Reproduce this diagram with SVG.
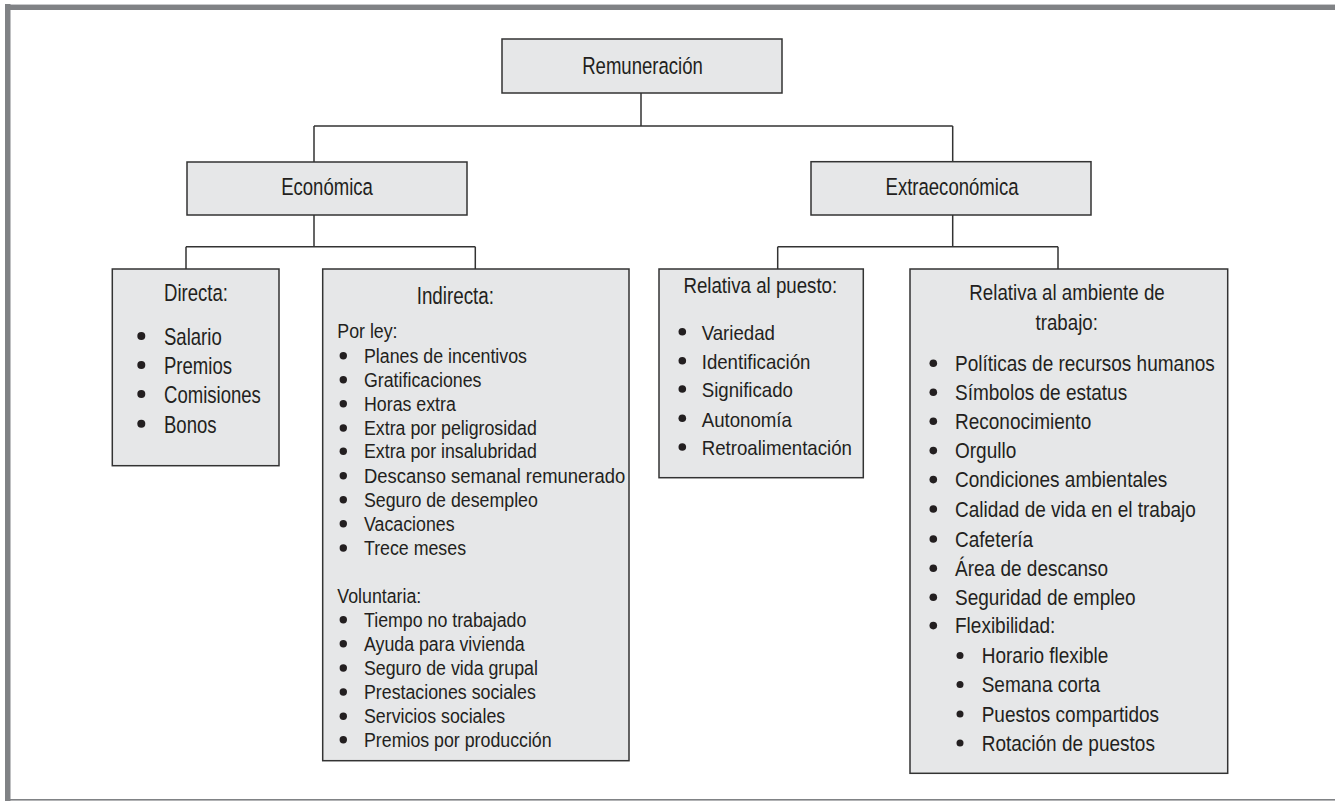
<svg xmlns="http://www.w3.org/2000/svg" width="1335" height="801" viewBox="0 0 1335 801">
<style>
.box{fill:#e6e7e8;stroke:#333333;stroke-width:1.5}
.ln{fill:none;stroke:#333333;stroke-width:1.5}
text{font-family:"Liberation Sans",Arial,sans-serif;fill:#231f20}
.t{font-size:23.5px;text-anchor:middle}
.d{font-size:23px}
.s{font-size:21px}
.p{font-size:20.5px}
.a{font-size:22px}
.b{fill:#231f20}
</style>
<rect x="0" y="0" width="1335" height="801" fill="#ffffff"/>
<g id="frame">
<rect x="5" y="4" width="1330" height="1" fill="#c8c9cb"/>
<rect x="5" y="5" width="1330" height="5" fill="#808285"/>
<rect x="5" y="4" width="5.5" height="797" fill="#808285"/>
<rect x="5" y="799" width="1330" height="1.6" fill="#808285"/>
</g>
<g id="connectors">
<path class="ln" d="M641 93V126M314 126H952.7M314 126V162M952.7 126V161.7"/>
<path class="ln" d="M314 215V246.7M186 246.7H475.3M186 246.7V269M475.3 246.7V269"/>
<path class="ln" d="M952.7 215V246.7M777.7 246.7H1058M777.7 246.7V269M1058 246.7V269"/>
</g>
<g id="remuneracion">
<rect class="box" x="502" y="39" width="280" height="54"/>
<text class="t" transform="translate(642.5,74) scale(0.79,1)">Remuneración</text>
</g>
<g id="economica">
<rect class="box" x="187" y="162" width="280" height="53"/>
<text class="t" transform="translate(327,195) scale(0.79,1)">Económica</text>
</g>
<g id="extraeconomica">
<rect class="box" x="811" y="161.7" width="280" height="53.3"/>
<text class="t" transform="translate(952,195) scale(0.79,1)">Extraeconómica</text>
</g>
<g id="directa">
<rect class="box" x="112.3" y="269" width="166.7" height="196.7"/>
<text class="t" transform="translate(196,300.7) scale(0.79,1)">Directa:</text>
<g class="b"><circle cx="141.3" cy="336" r="4"/><circle cx="141.3" cy="365" r="4"/><circle cx="141.3" cy="394" r="4"/><circle cx="141.3" cy="423.7" r="4"/></g>
<text class="d" transform="translate(164,345) scale(0.807,1)">Salario</text>
<text class="d" transform="translate(164,374) scale(0.807,1)">Premios</text>
<text class="d" transform="translate(164,403) scale(0.807,1)">Comisiones</text>
<text class="d" transform="translate(164,432.7) scale(0.807,1)">Bonos</text>
</g>
<g id="indirecta">
<rect class="box" x="322.7" y="269" width="306.3" height="491.7"/>
<text class="t" transform="translate(455.3,304) scale(0.8,1)">Indirecta:</text>
<text class="s" transform="translate(337.3,338.3) scale(0.847,1)">Por ley:</text>
<g class="b">
<circle cx="343.3" cy="355.7" r="3.7"/><circle cx="343.3" cy="379.7" r="3.7"/><circle cx="343.3" cy="403.7" r="3.7"/><circle cx="343.3" cy="428" r="3.7"/><circle cx="343.3" cy="451.3" r="3.7"/><circle cx="343.3" cy="475.7" r="3.7"/><circle cx="343.3" cy="499.7" r="3.7"/><circle cx="343.3" cy="523.7" r="3.7"/><circle cx="343.3" cy="548" r="3.7"/>
<circle cx="343.3" cy="619.7" r="3.7"/><circle cx="343.3" cy="643.7" r="3.7"/><circle cx="343.3" cy="668" r="3.7"/><circle cx="343.3" cy="692" r="3.7"/><circle cx="343.3" cy="716.3" r="3.7"/><circle cx="343.3" cy="739.7" r="3.7"/>
</g>
<text class="s" transform="translate(364,362.7) scale(0.847,1)">Planes de incentivos</text>
<text class="s" transform="translate(364,386.7) scale(0.847,1)">Gratificaciones</text>
<text class="s" transform="translate(364,410.7) scale(0.847,1)">Horas extra</text>
<text class="s" transform="translate(364,435) scale(0.847,1)">Extra por peligrosidad</text>
<text class="s" transform="translate(364,458.3) scale(0.847,1)">Extra por insalubridad</text>
<text class="s" transform="translate(364,482.7) scale(0.878,1)">Descanso semanal remunerado</text>
<text class="s" transform="translate(364,506.7) scale(0.847,1)">Seguro de desempleo</text>
<text class="s" transform="translate(364,530.7) scale(0.847,1)">Vacaciones</text>
<text class="s" transform="translate(364,555) scale(0.847,1)">Trece meses</text>
<text class="s" transform="translate(337.3,602.7) scale(0.847,1)">Voluntaria:</text>
<text class="s" transform="translate(364,626.7) scale(0.847,1)">Tiempo no trabajado</text>
<text class="s" transform="translate(364,650.7) scale(0.847,1)">Ayuda para vivienda</text>
<text class="s" transform="translate(364,675) scale(0.847,1)">Seguro de vida grupal</text>
<text class="s" transform="translate(364,699) scale(0.847,1)">Prestaciones sociales</text>
<text class="s" transform="translate(364,723.3) scale(0.847,1)">Servicios sociales</text>
<text class="s" transform="translate(364,746.7) scale(0.847,1)">Premios por producción</text>
</g>
<g id="puesto">
<rect class="box" x="659" y="269" width="204.3" height="208.7"/>
<text class="t" style="font-size:22px" transform="translate(760.3,293.3) scale(0.85,1)">Relativa al puesto:</text>
<g class="b"><circle cx="682.3" cy="331.7" r="3.8"/><circle cx="682.3" cy="360.7" r="3.8"/><circle cx="682.3" cy="389" r="3.8"/><circle cx="682.3" cy="418.3" r="3.8"/><circle cx="682.3" cy="447" r="3.8"/></g>
<text class="p" transform="translate(701.7,340) scale(0.91,1)">Variedad</text>
<text class="p" transform="translate(701.7,369) scale(0.91,1)">Identificación</text>
<text class="p" transform="translate(701.7,397.3) scale(0.91,1)">Significado</text>
<text class="p" transform="translate(701.7,426.7) scale(0.91,1)">Autonomía</text>
<text class="p" transform="translate(701.7,455.3) scale(0.91,1)">Retroalimentación</text>
</g>
<g id="ambiente">
<rect class="box" x="910" y="269" width="317.7" height="504.3"/>
<text class="t" style="font-size:22px" transform="translate(1067,300) scale(0.85,1)">Relativa al ambiente de</text>
<text class="t" style="font-size:22px" transform="translate(1066.7,330) scale(0.85,1)">trabajo:</text>
<g class="b">
<circle cx="933.3" cy="363.3" r="3.8"/><circle cx="933.3" cy="392.3" r="3.8"/><circle cx="933.3" cy="421.3" r="3.8"/><circle cx="933.3" cy="450.6" r="3.8"/><circle cx="933.3" cy="479.6" r="3.8"/><circle cx="933.3" cy="509" r="3.8"/><circle cx="933.3" cy="539" r="3.8"/><circle cx="933.3" cy="568.3" r="3.8"/><circle cx="933.3" cy="597.3" r="3.8"/><circle cx="933.3" cy="625.6" r="3.8"/>
<circle cx="960" cy="655.6" r="3.5"/><circle cx="960" cy="684.6" r="3.5"/><circle cx="960" cy="714" r="3.5"/><circle cx="960" cy="743" r="3.5"/>
</g>
<text class="a" transform="translate(955,371) scale(0.864,1)">Políticas de recursos humanos</text>
<text class="a" transform="translate(955,400) scale(0.864,1)">Símbolos de estatus</text>
<text class="a" transform="translate(955,429) scale(0.864,1)">Reconocimiento</text>
<text class="a" transform="translate(955,458.3) scale(0.864,1)">Orgullo</text>
<text class="a" transform="translate(955,487.3) scale(0.864,1)">Condiciones ambientales</text>
<text class="a" transform="translate(955,516.7) scale(0.864,1)">Calidad de vida en el trabajo</text>
<text class="a" transform="translate(955,546.7) scale(0.864,1)">Cafetería</text>
<text class="a" transform="translate(955,576) scale(0.864,1)">Área de descanso</text>
<text class="a" transform="translate(955,605) scale(0.864,1)">Seguridad de empleo</text>
<text class="a" transform="translate(955,633.3) scale(0.864,1)">Flexibilidad:</text>
<text class="a" transform="translate(981.7,663.3) scale(0.864,1)">Horario flexible</text>
<text class="a" transform="translate(981.7,692.3) scale(0.864,1)">Semana corta</text>
<text class="a" transform="translate(981.7,721.7) scale(0.864,1)">Puestos compartidos</text>
<text class="a" transform="translate(981.7,750.7) scale(0.864,1)">Rotación de puestos</text>
</g>
</svg>
